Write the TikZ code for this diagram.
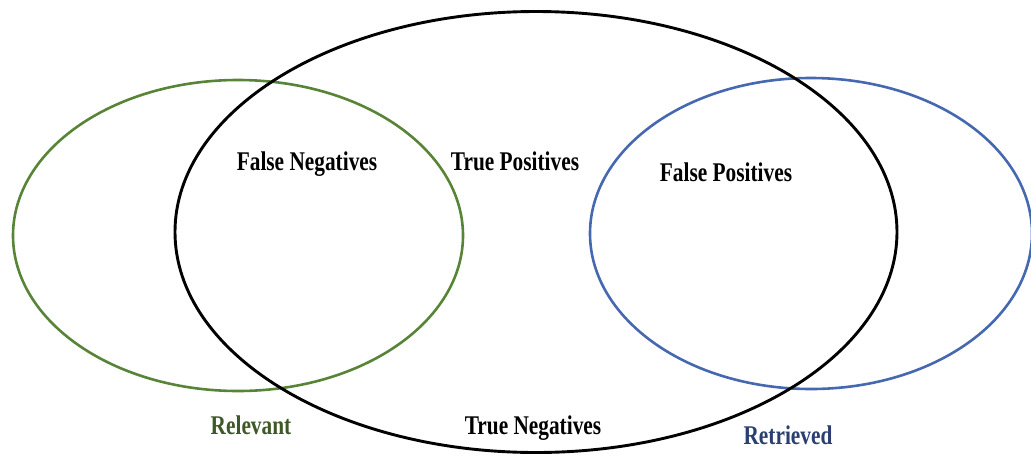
\documentclass[tikz,border=0pt]{standalone}
\usepackage{fontspec}
\setmainfont{Liberation Serif}
\newfontfamily\setlabelfont[FakeStretch=0.79]{Liberation Serif}
\definecolor{relline}{RGB}{88,132,56}
\definecolor{retline}{RGB}{70,104,176}
\definecolor{reltext}{RGB}{62,88,40}
\definecolor{rettext}{RGB}{42,62,112}
\begin{document}
\begin{tikzpicture}[x=1pt,y=-1pt,
  setlabel/.style={anchor=base,inner sep=0pt,
    font=\setlabelfont\bfseries\fontsize{27}{32}\selectfont},
  setring/.style={line width=2.6pt}]
\useasboundingbox (0,0) rectangle (1031,456);
% the three sets
\draw[setring,relline] (238,235.5) ellipse [x radius=225, y radius=155.5];
\draw[setring,retline] (811,233.5) ellipse [x radius=221, y radius=155.5];
\draw[setring,black,line width=2.9pt] (536,232) ellipse [x radius=361, y radius=220.5];
% region labels
\node[setlabel] (fn) at (307,170) {False Negatives};
\node[setlabel] (tp) at (515,170) {True Positives};
\node[setlabel] (fp) at (726,181) {False Positives};
\node[setlabel] (tn) at (533,434) {True Negatives};
% set names
\node[setlabel,reltext] (rel) at (251,434) {Relevant};
\node[setlabel,rettext] (ret) at (788,444) {Retrieved};
\end{tikzpicture}
\end{document}
